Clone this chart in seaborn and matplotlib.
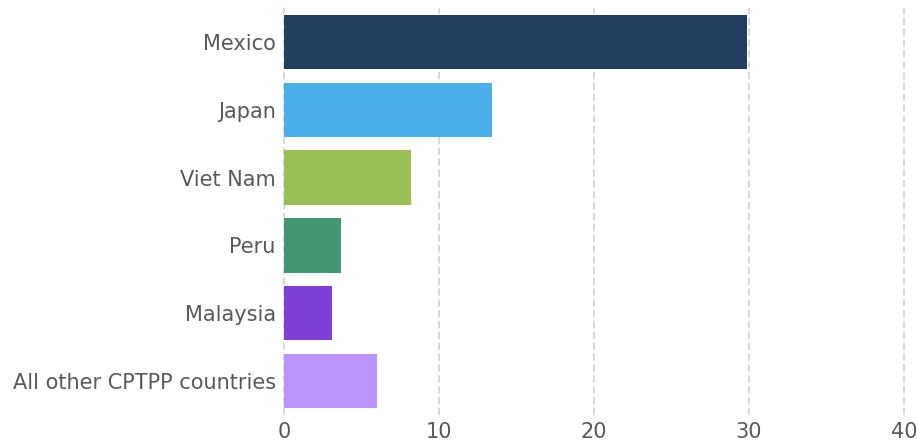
import matplotlib
matplotlib.use("Agg")
import matplotlib.pyplot as plt
import seaborn as sns
import pandas as pd

categories = ["Mexico", "Japan", "Viet Nam", "Peru", "Malaysia", "All other CPTPP countries"]
values = [29.9, 13.4, 8.2, 3.7, 3.1, 6.0]
colors = ["#233f5f", "#4aaeea", "#9abf55", "#439770", "#7f3fd6", "#b894fb"]
x_ticks = [0, 10, 20, 30, 40]

sns.set_theme(style="white")
plt.rcParams['font.family'] = ['DejaVu Sans']

df = pd.DataFrame({"country": categories, "value": values})

fig = plt.figure(figsize=(9.17, 4.44), dpi=100)
ax = fig.add_axes([284/917, 1 - 415/444, (904 - 284)/917, (415 - 8)/444])

sns.barplot(data=df, x="value", y="country", hue="country", palette=colors,
            order=categories, hue_order=categories, legend=False, width=0.8,
            saturation=1, linewidth=0, ax=ax, zorder=3)

ax.set_xlim(0, 40)
ax.set_xticks(x_ticks)
ax.set_xticklabels([str(t) for t in x_ticks])
for t in x_ticks:
    ax.axvline(t, color="#d6d6d6", lw=1.3, ls=(0, (4, 2)), zorder=1, clip_on=False)
ax.set_xlabel("")
ax.set_ylabel("")
for s in ax.spines.values():
    s.set_visible(False)
ax.tick_params(axis="both", length=0, colors="#595959", labelsize=15)
ax.tick_params(axis="x", pad=5)
ax.tick_params(axis="y", pad=6)

fig.savefig("out.png", dpi=100)
